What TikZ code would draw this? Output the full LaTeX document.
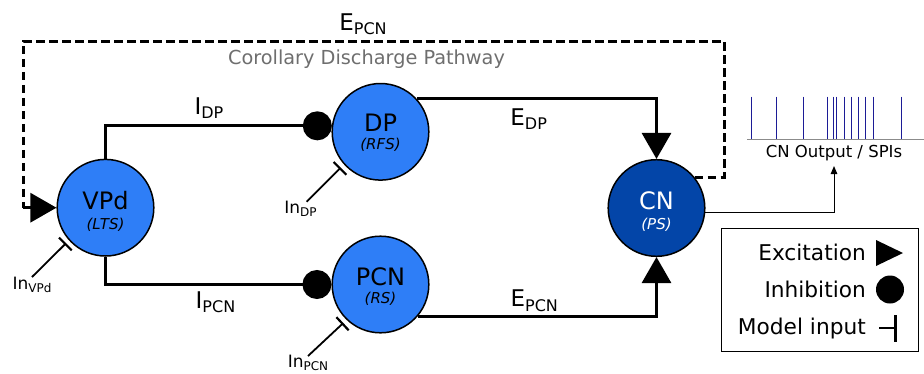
\documentclass[tikz,border=0pt]{standalone}
\usepackage{fontspec}
\setmainfont{DejaVu Sans}
\usetikzlibrary{arrows.meta,calc}
\definecolor{nblue}{HTML}{2E7EF7}
\definecolor{ndark}{HTML}{0345A8}
\definecolor{spk}{HTML}{1C1C96}
\definecolor{cdgray}{HTML}{6E6E6E}
\newcommand\fsz[1]{\fontsize{#1}{#1}\selectfont}
\newcommand\lbl[2]{{\fsz{23}#1}\raisebox{-4.5pt}{\fsz{16}#2}}
\newcommand\inlbl[1]{{\fsz{17}In}\raisebox{-3pt}{\fsz{12}#1}}
\begin{document}
\begin{tikzpicture}[x=1pt,y=-1pt,
  neuron/.style={circle,draw=black,line width=1.5pt,fill=nblue,minimum size=96.6pt,inner sep=0pt},
  conn/.style={line width=3pt},
  exc/.style={-{Triangle[width=29pt,length=26pt]}},
  inh/.style={-{Circle[length=29pt]}},
  inp/.style={line width=1.8pt,-{Bar[width=18pt,line width=2.2pt]}},
  cd/.style={line width=3pt,dash pattern=on 8.5pt off 4.5pt},
  mainlab/.style={anchor=base,font=\fsz{24}},
  sublab/.style={anchor=base,font=\fsz{15}\itshape},
  elab/.style={anchor=base,inner sep=0pt},
  leg/.style={anchor=base east,font=\fsz{21.7},inner sep=0pt}]
\useasboundingbox (0,0) rectangle (924,373);

% neurons
\node[neuron] (VPd) at (105.5,207.7) {};
\node[neuron] (DP) at (380.5,131.8) {};
\node[neuron] (PCN) at (380.5,284.5) {};
\node[neuron,fill=ndark] (CN) at (656.5,208) {};

\node[mainlab] (VPdt) at (105.5,209) {VPd};
\node[sublab] (VPds) at (105.5,229) {(LTS)};
\node[mainlab] (DPt) at (380.5,131) {DP};
\node[sublab] (DPs) at (380.5,149.5) {(RFS)};
\node[mainlab] (PCNt) at (380.5,285) {PCN};
\node[sublab] (PCNs) at (380.5,303) {(RS)};
\node[mainlab,text=white] (CNt) at (656.5,209.5) {CN};
\node[sublab,text=white] (CNs) at (656.5,229.5) {(PS)};

% connections
\draw[conn,inh] (VPd.north) |- (DP.173);
\draw[conn,inh] (VPd.south) |- (PCN.west);
\draw[conn,exc] (DP.42) -| (CN.north);
\draw[conn,exc] (PCN.-40) -| (CN.south);

% corollary discharge
\coordinate (d1) at (724,41);
\coordinate (d2) at (23.3,207.7);
\draw[cd] (CN.39) -| (d1) -| (d2);
\draw[line width=3pt,exc] (d2) -- (VPd.west);

% inputs
\coordinate (inV) at (32,277);
\coordinate (inD) at (306.7,201.7);
\coordinate (inP) at (308,356);
\draw[inp] (inV) -- ($(VPd.center)!53pt!(VPd.222)$);
\draw[inp] (inD) -- ($(DP.center)!53.5pt!(DP.222)$);
\draw[inp] (inP) -- ($(PCN.center)!53.5pt!(PCN.226)$);
\node[elab] (lInV) at (32,289.3) {\inlbl{VPd}};
\node[elab] (lInD) at (300.5,213.3) {\inlbl{DP}};
\node[elab] (lInP) at (308,367.3) {\inlbl{PCN}};

% connection labels
\node[elab] (lEtop) at (363,30) {\lbl{E}{PCN}};
\node[elab,text=cdgray,font=\fsz{19.3}] (lCD) at (366.5,64.3) {Corollary Discharge Pathway};
\node[elab] (lIDP) at (209,114.3) {\lbl{I}{DP}};
\node[elab] (lIPCN) at (215.5,308.3) {\lbl{I}{PCN}};
\node[elab] (lEDP) at (528.7,125) {\lbl{E}{DP}};
\node[elab] (lEPCN) at (534.3,306.7) {\lbl{E}{PCN}};

% spike train
\draw[cdgray!80,line width=1pt] (747,139.3) -- (924,139.3);
\foreach \s in {751,776.7,803,827,833,836,844.3,851.3,858.7,865.3,873.3,901}
  \draw[spk,line width=1pt] (\s,96.7) -- (\s,139.3);
\node[elab,font=\fsz{16.5}] (lOut) at (834,157.5) {CN Output / SPIs};
\coordinate (outtip) at (834,166);
\draw[line width=1pt,-{Triangle[length=8pt,width=6.5pt]}] (CN.-5) -| (outtip);

% legend
\draw[line width=1pt] (721,228) rectangle (918,351);
\node[leg] (lExc) at (866,260) {Excitation};
\node[leg] (lInh) at (866,297.3) {Inhibition};
\node[leg] (lMod) at (866,334) {Model input};
\fill (876,240) -- (903,253) -- (876,266) -- cycle;
\fill (890,289.5) circle (14);
\draw[line width=2pt] (879,327.5) -- (895,327.5);
\draw[line width=3pt] (895,315) -- (895,342);
\end{tikzpicture}
\end{document}
